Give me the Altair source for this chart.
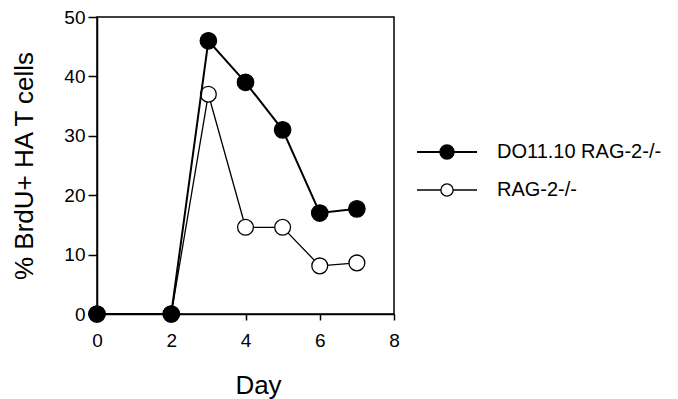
import altair as alt
import pandas as pd

days = [0, 2, 3, 4, 5, 6, 7]
do11_rag = [0, 0, 46, 39, 31, 17, 17.7]
rag = [0, 0, 37, 14.6, 14.6, 8.1, 8.6]
series_names = ["DO11.10 RAG-2-/-", "RAG-2-/-"]
x_ticks = [0, 2, 4, 6, 8]
y_ticks = [0, 10, 20, 30, 40, 50]

FONT = "Liberation Sans"

df_do = pd.DataFrame({"day": days, "pct": do11_rag, "series": series_names[0]})
df_rag = pd.DataFrame({"day": days, "pct": rag, "series": series_names[1]})

xs = alt.Scale(domain=[0, 8], nice=False)
ys = alt.Scale(domain=[0, 50], nice=False)

xax = alt.Axis(values=x_ticks, title="Day", grid=False, tickSize=6, labelPadding=11,
               titlePadding=22, titleX=161, labelFontSize=19, titleFontSize=26, labelFont=FONT,
               titleFont=FONT, titleFontWeight="normal", domainColor="black",
               tickColor="black", labelColor="black", titleColor="black",
               domainWidth=1.5, tickWidth=1.5, labelFlush=False)
yax = alt.Axis(values=y_ticks, title="% BrdU+ HA T cells", grid=False, tickSize=9,
               labelPadding=3, titlePadding=26, labelFontSize=19, titleFontSize=26,
               labelFont=FONT, titleFont=FONT, titleFontWeight="normal",
               domainColor="black", tickColor="black", labelColor="black",
               titleColor="black", domainWidth=1.5, tickWidth=1.5, labelFlush=False)

def line(df, width):
    return alt.Chart(df).mark_line(color="black", strokeWidth=width).encode(
        x=alt.X("day:Q", scale=xs, axis=xax),
        y=alt.Y("pct:Q", scale=ys, axis=yax),
    )

def pts(df, filled):
    return alt.Chart(df).mark_point(
        shape="circle", filled=True, size=270 if filled else 250,
        fill="black" if filled else "white", stroke="black",
        strokeWidth=1.3, opacity=1,
    ).encode(x=alt.X("day:Q", scale=xs), y=alt.Y("pct:Q", scale=ys))

layers = [
    line(df_rag, 1.3), pts(df_rag, False),
    line(df_do, 2), pts(df_do, True),
]

# manual legend to the right of the plot
leg_y = [135, 173]
for i, name in enumerate(series_names):
    d = pd.DataFrame({"label": [name]})
    filled = i == 0
    layers.append(alt.Chart(d).mark_rule(color="black", strokeWidth=2 if filled else 1.3).encode(
        x=alt.value(320), x2=alt.value(380), y=alt.value(leg_y[i])))
    layers.append(alt.Chart(d).mark_point(
        shape="circle", filled=True, size=200 if filled else 150,
        fill="black" if filled else "white", stroke="black", strokeWidth=1.3, opacity=1,
    ).encode(x=alt.value(350), y=alt.value(leg_y[i])))
    layers.append(alt.Chart(d).mark_text(
        align="left", baseline="middle", font=FONT, fontSize=20, color="black",
    ).encode(x=alt.value(400), y=alt.value(leg_y[i]), text="label:N"))

chart = alt.layer(*layers).properties(
    width=297, height=297,
    autosize=alt.AutoSizeParams(type="none"),
    padding={"left": 89, "top": 9, "right": 270, "bottom": 90},
).configure(background="white").configure_view(stroke="black", strokeWidth=1.5)

chart.save("out.html", embed_options={"renderer": "svg", "actions": False})
